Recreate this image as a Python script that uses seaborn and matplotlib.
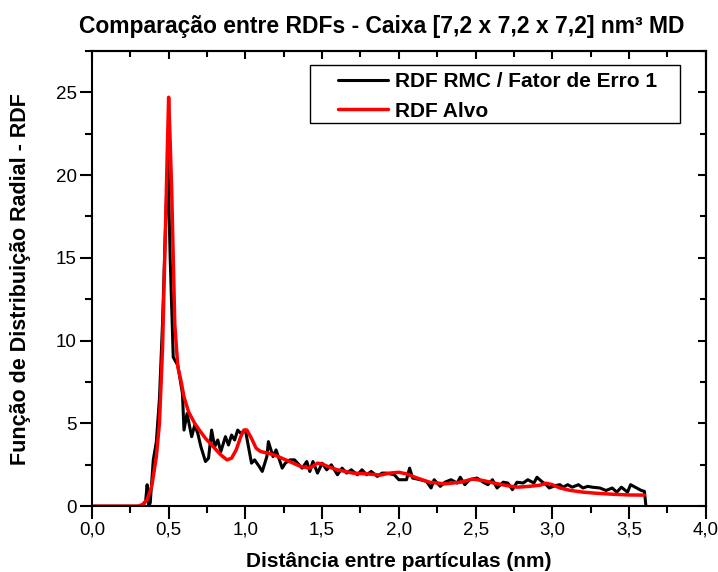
"""RDF comparison: RMC result vs target RDF, 7.2 nm MD box."""

import matplotlib
matplotlib.use("Agg")
import matplotlib.pyplot as plt
import pandas as pd
import seaborn as sns
from matplotlib.patches import Rectangle
from matplotlib.ticker import MultipleLocator, FuncFormatter, NullFormatter

# RDF RMC / Fator de Erro 1 (black, noisy)
rmc_r = [0.00, 0.33, 0.35, 0.36, 0.37, 0.38, 0.40, 0.42, 0.44, 0.46, 0.48, 0.495,
         0.51, 0.53, 0.56, 0.59, 0.60, 0.62, 0.65, 0.67, 0.69, 0.71, 0.74, 0.76,
         0.78, 0.80, 0.82, 0.84, 0.87, 0.89, 0.91, 0.93, 0.95, 0.97, 1.00, 1.02,
         1.04, 1.06, 1.09, 1.11, 1.14, 1.15, 1.18, 1.20, 1.24, 1.26, 1.29, 1.32,
         1.34, 1.37, 1.40, 1.42, 1.44, 1.47, 1.50, 1.53, 1.56, 1.60, 1.63, 1.66,
         1.69, 1.73, 1.76, 1.79, 1.82, 1.86, 1.89, 1.92, 1.97, 2.00, 2.05, 2.07,
         2.09, 2.14, 2.18, 2.21, 2.23, 2.27, 2.30, 2.34, 2.38, 2.40, 2.43, 2.46,
         2.51, 2.55, 2.58, 2.61, 2.64, 2.68, 2.71, 2.74, 2.77, 2.81, 2.84, 2.88,
         2.90, 2.93, 2.96, 2.98, 3.02, 3.05, 3.07, 3.10, 3.13, 3.17, 3.20, 3.23,
         3.26, 3.31, 3.35, 3.39, 3.42, 3.45, 3.49, 3.51, 3.55, 3.58, 3.60, 3.61]
rmc_g = [0.0, 0.0, 0.3, 1.3, 0.0, 0.2, 2.8, 3.9, 6.5, 11.0, 17.0, 21.0,
         15.0, 9.0, 8.5, 6.8, 4.6, 5.6, 4.2, 4.9, 4.4, 3.6, 2.7, 2.9,
         4.6, 3.6, 4.0, 3.3, 4.2, 3.7, 4.3, 4.0, 4.6, 4.4, 4.6, 3.6,
         2.6, 2.8, 2.4, 2.1, 3.0, 3.9, 3.0, 3.4, 2.3, 2.6, 2.8, 2.8,
         2.6, 2.3, 2.7, 2.1, 2.7, 2.0, 2.6, 2.2, 2.5, 1.9, 2.3, 2.0,
         2.2, 1.9, 2.2, 1.9, 2.1, 1.8, 2.0, 2.0, 1.9, 1.6, 1.6, 2.3,
         1.7, 1.6, 1.5, 1.1, 1.6, 1.2, 1.45, 1.6, 1.4, 1.75, 1.3, 1.6,
         1.7, 1.45, 1.3, 1.6, 1.1, 1.45, 1.4, 1.0, 1.45, 1.4, 1.6, 1.4,
         1.75, 1.5, 1.3, 1.1, 1.25, 1.3, 1.15, 1.3, 1.15, 1.3, 1.1, 1.2,
         1.15, 1.1, 0.95, 1.1, 0.85, 1.15, 0.85, 1.3, 1.1, 0.95, 0.9, 0.0]

# RDF Alvo (red, smooth target)
alvo_r = [0.00, 0.30, 0.33, 0.36, 0.39, 0.42, 0.44, 0.46, 0.48, 0.49, 0.50, 0.51,
          0.52, 0.54, 0.56, 0.58, 0.60, 0.63, 0.67, 0.70, 0.74, 0.79, 0.84, 0.88,
          0.91, 0.94, 0.97, 0.99, 1.01, 1.04, 1.07, 1.10, 1.15, 1.20, 1.25, 1.30,
          1.36, 1.42, 1.47, 1.50, 1.55, 1.60, 1.70, 1.80, 1.88, 1.94, 2.00, 2.05,
          2.12, 2.20, 2.30, 2.40, 2.48, 2.55, 2.62, 2.70, 2.77, 2.85, 2.92, 2.96,
          3.00, 3.05, 3.12, 3.20, 3.29, 3.40, 3.50, 3.60]
alvo_g = [0.0, 0.0, 0.1, 0.4, 1.2, 3.0, 5.0, 9.5, 17.0, 21.0, 24.7, 22.0,
          19.0, 11.0, 8.4, 7.6, 6.6, 5.7, 5.0, 4.6, 4.1, 3.6, 3.1, 2.8,
          2.9, 3.4, 4.2, 4.6, 4.6, 4.1, 3.5, 3.3, 3.2, 3.05, 2.85, 2.65,
          2.4, 2.3, 2.6, 2.55, 2.35, 2.2, 2.0, 1.95, 1.88, 2.0, 2.05, 1.95,
          1.7, 1.45, 1.35, 1.45, 1.64, 1.55, 1.4, 1.25, 1.15, 1.2, 1.27, 1.39,
          1.3, 1.1, 0.95, 0.85, 0.78, 0.72, 0.68, 0.67]

FONT = ["Liberation Sans", "DejaVu Sans"]


def main() -> None:
    sns.set_style("ticks")
    plt.rcParams["font.family"] = FONT
    plt.rcParams["text.color"] = "black"
    plt.rcParams["axes.labelcolor"] = "black"

    fig = plt.figure(figsize=(7.18, 5.72), dpi=100)
    ax = fig.add_axes([0.128, 0.115, 0.855, 0.796])

    rmc = pd.DataFrame({"r": rmc_r, "g": rmc_g})
    alvo = pd.DataFrame({"r": alvo_r, "g": alvo_g})
    sns.lineplot(data=rmc, x="r", y="g", color="black", lw=2.2,
                 label="RDF RMC / Fator de Erro 1", ax=ax)
    sns.lineplot(data=alvo, x="r", y="g", color="#ff0000", lw=2.5,
                 label="RDF Alvo", ax=ax)

    ax.set_xlim(0, 4.0)
    ax.set_ylim(0, 27.5)
    ax.xaxis.set_major_locator(MultipleLocator(0.5))
    ax.xaxis.set_minor_locator(MultipleLocator(0.25))
    ax.yaxis.set_major_locator(MultipleLocator(5))
    ax.yaxis.set_minor_locator(MultipleLocator(2.5))
    ax.xaxis.set_major_formatter(FuncFormatter(lambda v, _: f"{v:.1f}".replace(".", ",")))

    for s in ax.spines.values():
        s.set_linewidth(1.5)
        s.set_visible(True)
        s.set_color("black")
    ax.tick_params(which="both", direction="out", width=1.5, labelsize=13.5,
                   colors="black", pad=2)
    ax.tick_params(which="major", length=9)
    ax.tick_params(which="minor", length=5)

    # mirrored ticks on top/right, pointing inward, no labels
    top = ax.secondary_xaxis("top")
    top.xaxis.set_major_locator(MultipleLocator(0.5))
    top.xaxis.set_minor_locator(MultipleLocator(0.25))
    top.xaxis.set_major_formatter(NullFormatter())
    top.tick_params(which="both", direction="in", width=1.5, colors="black")
    top.tick_params(which="major", length=6)
    top.tick_params(which="minor", length=4)
    right = ax.secondary_yaxis("right")
    right.yaxis.set_major_locator(MultipleLocator(5))
    right.yaxis.set_minor_locator(MultipleLocator(2.5))
    right.yaxis.set_major_formatter(NullFormatter())
    right.tick_params(which="both", direction="in", width=1.5, colors="black")
    right.tick_params(which="major", length=6)
    right.tick_params(which="minor", length=4)
    for sec in (top, right):
        for s in sec.spines.values():
            s.set_linewidth(1.5)
            s.set_color("black")

    ax.set_xlabel("Distância entre partículas (nm)", fontsize=15, fontweight="bold",
                  labelpad=10)
    ax.set_ylabel("Função de Distribuição Radial - RDF", fontsize=15.5,
                  fontweight="bold", labelpad=18)
    fig.text(0.532, 0.954, "Comparação entre RDFs - Caixa [7,2 x 7,2 x 7,2] nm³ MD",
             ha="center", va="center", fontsize=16.5, fontweight="bold")

    # legend frame drawn separately (wider side padding than matplotlib allows)
    ax.add_patch(Rectangle((0.355, 0.842), 0.603, 0.127, transform=ax.transAxes,
                           facecolor="white", edgecolor="black", lw=1.0, zorder=4))
    leg = ax.legend(loc="upper left", bbox_to_anchor=(0.401, 0.953),
                    borderaxespad=0, borderpad=0, frameon=False,
                    handlelength=2.4, handletextpad=0.35,
                    prop={"weight": "bold", "size": 15},
                    labelspacing=0.5)
    leg.set_zorder(5)

    fig.savefig("out.png", dpi=100)
    plt.close(fig)


if __name__ == "__main__":
    main()
